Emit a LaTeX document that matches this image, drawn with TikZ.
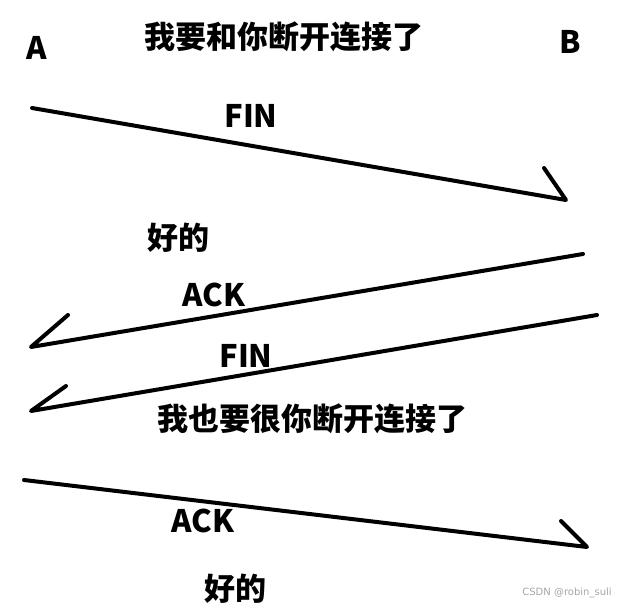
\documentclass[tikz,border=0pt]{standalone}
\usepackage{fontspec}
\newfontfamily\cjk{Noto Sans CJK SC}
\newfontfamily\wmfont{DejaVu Sans}
\definecolor{wmgray}{RGB}{165,165,165}
\begin{document}
\begin{tikzpicture}[x=1pt,y=-1pt,
  lbl/.style={font=\cjk\bfseries\fontsize{31}{31}\selectfont, inner sep=0pt, anchor=center},
  msg/.style={line width=4pt, line cap=round, line join=round, black}]
\useasboundingbox (0,0) rectangle (620,609);
% labels
\node[lbl] (A) at (37,48) {A};
\node[lbl] (B) at (570,42) {B};
\node[lbl] (t1) at (284,37) {我要和你断开连接了};
\node[lbl] (fin1) at (251,116) {FIN};
\node[lbl] (ok1) at (178,238) {好的};
\node[lbl] (ack1) at (214,295) {ACK};
\node[lbl] (fin2) at (246,356) {FIN};
\node[lbl] (t2) at (312,419) {我也要很你断开连接了};
\node[lbl] (ack2) at (203,521) {ACK};
\node[lbl] (ok2) at (235,589) {好的};
\node[font=\wmfont\fontsize{10}{10}\selectfont, text=wmgray, inner sep=0pt] (wm) at (567,593) {CSDN @robin\_suli};
% arrow end points
\coordinate (a1s) at (32,108);  \coordinate (a1e) at (566,200); \coordinate (a1h) at (544,168);
\coordinate (a2s) at (583,254); \coordinate (a2e) at (31,347);  \coordinate (a2h) at (68,315);
\coordinate (a3s) at (597,315); \coordinate (a3e) at (31,411);  \coordinate (a3h) at (66,386);
\coordinate (a4s) at (24,480);  \coordinate (a4e) at (587,547); \coordinate (a4h) at (561,521);
% arrows
\draw[msg] (a1s) -- (a1e) -- (a1h);
\draw[msg] (a2s) -- (a2e) -- (a2h);
\draw[msg] (a3s) -- (a3e) -- (a3h);
\draw[msg] (a4s) -- (a4e) -- (a4h);
\end{tikzpicture}
\end{document}
